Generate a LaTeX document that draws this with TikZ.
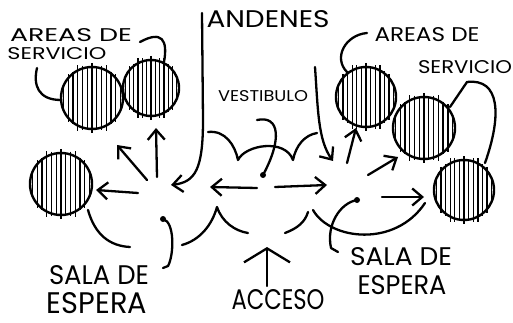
\documentclass[tikz,border=0pt]{standalone}
\usepackage{fontspec}
\setsansfont{Poppins}
\usepackage{graphicx}
\usetikzlibrary{arrows.meta,calc}
\tikzset{zone/.style={circle,draw,line width=2.4pt,inner sep=0pt},
	hatch/.style={line width=1.3pt},
	pen/.style={line width=2.3pt,line cap=round,line join=round},
	arr/.style={pen,-{Straight Barb[length=10pt,width=17pt]}},
	hand/.style={inner sep=0pt,font=\sffamily}}
\newcommand\scrawl[3]{\resizebox{#1pt}{#2pt}{#3}}
\newcommand\hatchzone[2]{%
	\foreach \k in {-6,...,6}{%
		\pgfmathsetmacro\hx{\k*#2/6.5}
		\pgfmathsetmacro\hy{sqrt(#2*#2-\hx*\hx)}
		\pgfmathsetmacro\ov{mod(abs(\k)*7+3,5)+1}
		\draw[hatch] ($(#1)+(\hx,-\hy-\ov)$) -- ($(#1)+(\hx,\hy+\ov)$);}}

\begin{document}
\begin{tikzpicture}[x=1pt,y=-1pt]
	\useasboundingbox (0,0) rectangle (513,323);
	% areas de servicio
	\node[zone,minimum size=62] (sl) at (92,98) {};
	\node[zone,minimum size=56] (sr) at (151,88) {};
	\node[zone,minimum size=62] (sb) at (61,184) {};
	\node[zone,minimum size=60] (dl) at (366,97) {};
	\node[zone,minimum size=62] (dm) at (424,128) {};
	\node[zone,minimum size=60] (db) at (464,190) {};
	\hatchzone{sl}{31} \hatchzone{sr}{28} \hatchzone{sb}{31}
	\hatchzone{dl}{30} \hatchzone{dm}{31} \hatchzone{db}{30}
	% texts
	\node[hand] (asl) at (71,35) {\scrawl{122}{13}{AREAS DE}};
	\node[hand] (sel) at (57,54) {\scrawl{99}{12}{SERVICIO}};
	\node[hand] (and) at (268,19) {\scrawl{123}{17}{ANDENES}};
	\node[hand] (ves) at (263,96) {\scrawl{90}{11}{VESTIBULO}};
	\node[hand] (acc) at (278,300) {\scrawl{93}{20}{ACCESO}};
	\node[hand] (sal) at (99,275) {\scrawl{100}{19}{SALA DE}};
	\node[hand] (esl) at (97,303) {\scrawl{100}{21}{ESPERA}};
	\node[hand] (sad) at (401,257) {\scrawl{102}{18}{SALA DE}};
	\node[hand] (esd) at (402,285) {\scrawl{89}{19}{ESPERA}};
	\node[hand] (asd) at (427,35) {\scrawl{105}{14}{AREAS DE}};
	\node[hand] (sed) at (465,67) {\scrawl{94}{13}{SERVICIO}};
	% leaders
	\draw[pen] (140,42) .. controls (162,30) and (168,40) .. (164,62);
	\draw[pen] (37,68) .. controls (33,85) and (38,100) .. (61,100);
	\draw[pen] (367,33) .. controls (345,35) and (333,58) .. (347,72);
	\draw[pen] (450,107) -- (467,82) .. controls (500,78) and (502,115) .. (485,163);
	% andenes
	\draw[arr] (202,13) -- (203,120) .. controls (203,170) and (195,182) .. (171,185);
	\draw[arr] (315,67) .. controls (318,110) and (318,140) .. (333,161);
	% vestibulo
	\draw[pen] (257,120) .. controls (280,115) and (282,140) .. (263,175);
	\fill (263,175) circle (3);
	% cloud
	\draw[pen] (208,132) .. controls (225,130) and (235,145) .. (238,160)
		.. controls (245,145) and (285,138) .. (293,160)
		.. controls (296,145) and (305,135) .. (317,133);
	\draw[pen] (88,210) .. controls (95,235) and (110,246) .. (130,247);
	\draw[pen] (182,245) .. controls (200,240) and (212,225) .. (217,207)
		.. controls (222,222) and (235,231) .. (248,233);
	\draw[pen] (285,233) .. controls (298,228) and (305,222) .. (308,212);
	\draw[pen] (313,210) .. controls (330,240) and (395,248) .. (425,203);
	% salas de espera
	\draw[pen] (163,219) .. controls (175,222) and (174,255) .. (168,266) -- (163,268);
	\fill (163,219) circle (3);
	\draw[pen] (357,200) .. controls (340,203) and (326,225) .. (331,248) -- (338,252);
	\fill (357,200) circle (3);
	% arrows
	\draw[arr] (257,188) -- (210,187);
	\draw[arr] (275,187) -- (327,185);
	\draw[pen,-{Straight Barb[length=14pt,width=46pt]}] (267,286) -- (267,247);
	\draw[arr] (138,193) -- (96,190);
	\draw[arr] (147,180) -- (117,145);
	\draw[arr] (157,177) -- (156,128);
	\draw[arr] (347,163) -- (356,128);
	\draw[arr] (368,175) -- (398,157);
	\draw[arr] (382,197) -- (424,197);
\end{tikzpicture}
\end{document}
